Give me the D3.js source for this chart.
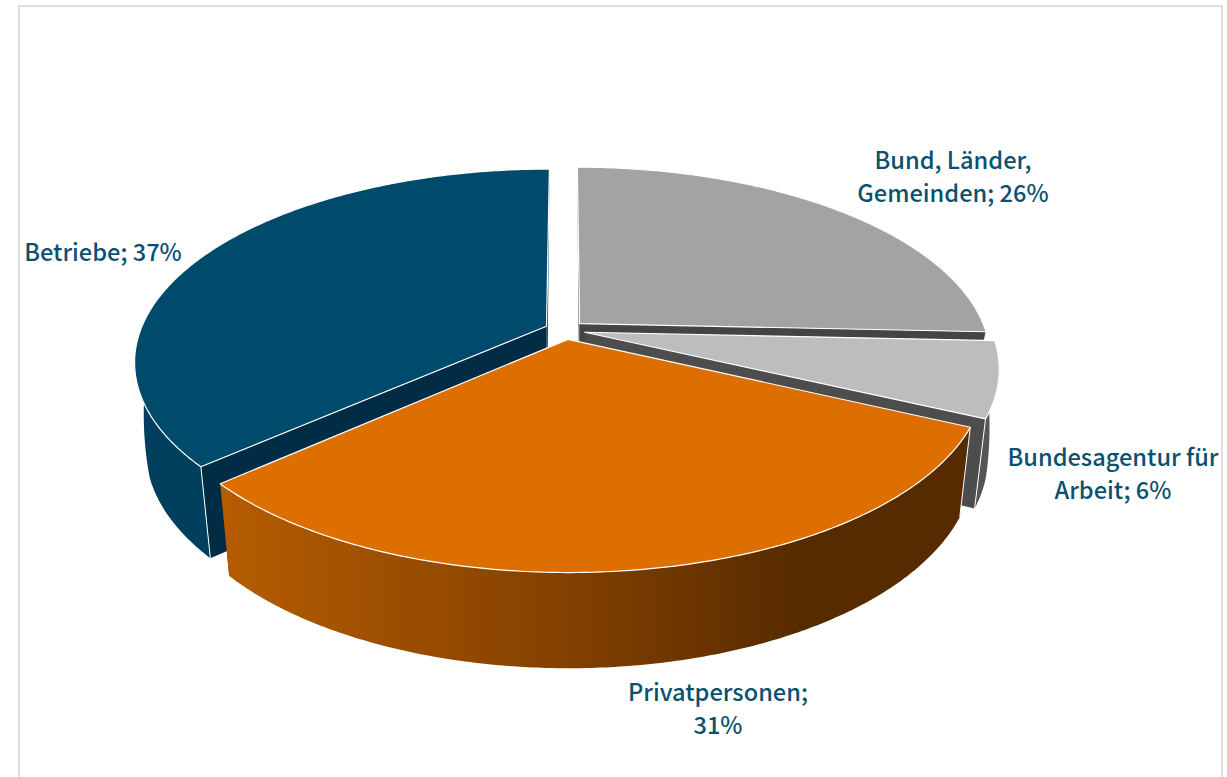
<!DOCTYPE html>
<html>
<head>
<meta charset="utf-8">
<script src="https://cdn.jsdelivr.net/npm/d3@7"></script>
<style>
  html, body { margin: 0; padding: 0; background: #fff; }
  svg { display: block; }
  .label { font-family: "Noto Sans CJK SC", "Noto Sans", sans-serif; font-weight: 500; font-size: 23.6px; fill: #0a5170; text-anchor: middle; }
</style>
</head>
<body>
<div id="chart"></div>
<script>
// clockwise from 12 o'clock (labels show them rounded)
const categories = ['Bund, Länder, Gemeinden', 'Bundesagentur für Arbeit', 'Privatpersonen', 'Betriebe'];
const shares = [25.7, 6.3, 31.4, 36.6];
const labelLines = [
    ['Bund, Länder,', 'Gemeinden; 26%'],
    ['Bundesagentur für', 'Arbeit; 6%'],
    ['Privatpersonen;', '31%'],
    ['Betriebe; 37%']
];

const topColors = ['#a3a3a3', '#bdbdbd', '#dd6f00', '#004b6b'];
const faceColors = ['#444444', '#4d4d4d', '#572b00', '#002c45'];
const wallColors = ['#444444', '#555555', 'url(#privatWall)', '#003f5e'];
const labelAnchors = [[953, 169], [1113, 466], [718, 701], [103, 261]];

const width = 1227, height = 777;

// tilted disc, a bit of perspective
const cx = 565, cy = 330;
const radius = 406, depthRadius = 187, viewDist = 5.5;
const explode = 0.05;
const wallHeight = 86, wallShrinkX = 0.974, wallGrowY = 1.04;

function project(x, y, bottom, onRim) {
    // y is positive towards the viewer
    let s = viewDist / (viewDist - y);
    let px = x * radius * s;
    let py = y * depthRadius * s;
    if (bottom) {
        // the wall fades out towards the back of the rim
        let ramp = onRim ? Math.max(0, Math.min(1, (y + 0.2) / 0.5)) : 1;
        px *= wallShrinkX + 0.016 * (1 - ramp);
        py = py * (1 + (wallGrowY - 1) * ramp) + wallHeight * ramp;
    }
    return [cx + px, cy + py];
}

function rimPoint(angle, mid, bottom) {
    let ox = Math.sin(mid) * explode, oy = -Math.cos(mid) * explode;
    return project(ox + Math.sin(angle), oy - Math.cos(angle), bottom, true);
}

function apexPoint(mid, bottom) {
    return project(Math.sin(mid) * explode, -Math.cos(mid) * explode, bottom, false);
}

function arcPoints(d, bottom) {
    let mid = (d.startAngle + d.endAngle) / 2;
    let n = Math.ceil((d.endAngle - d.startAngle) / 0.01);
    return d3.range(n + 1).map(i => rimPoint(d.startAngle + (d.endAngle - d.startAngle) * i / n, mid, bottom));
}

const line = d3.line().curve(d3.curveLinearClosed);

const pie = d3.pie().sort(null).value(d => d);
const slices = pie(shares).map((d, i) => ({...d, idx: i}));

const svg = d3.select('#chart').append('svg')
    .attr('width', width)
    .attr('height', height);

// frame, open at the bottom
svg.append('path')
    .attr('d', d3.line()([[19, height], [19, 6], [1222, 6], [1222, height]]))
    .attr('fill', 'none')
    .attr('stroke', '#dedede')
    .attr('stroke-width', 2);

const grad = svg.append('defs').append('linearGradient')
    .attr('id', 'privatWall')
    .attr('gradientUnits', 'userSpaceOnUse')
    .attr('x1', 225).attr('x2', 800).attr('y1', 0).attr('y2', 0);
grad.append('stop').attr('offset', 0).attr('stop-color', '#b55c00');
grad.append('stop').attr('offset', 0.6).attr('stop-color', '#824000');
grad.append('stop').attr('offset', 1).attr('stop-color', '#572b00');

// painter's order: back slices first, Privatpersonen on top
const drawOrder = [0, 1, 3, 2];

drawOrder.forEach(i => {
    let d = slices[i];
    let mid = (d.startAngle + d.endAngle) / 2;
    let g = svg.append('g').attr('class', 'slice');

    // cut faces
    [d.startAngle, d.endAngle].forEach(a => {
        g.append('path')
            .attr('d', line([
                apexPoint(mid, false), rimPoint(a, mid, false),
                rimPoint(a, mid, true), apexPoint(mid, true)
            ]))
            .attr('fill', faceColors[i]);
    });

    // outer wall
    let topArc = arcPoints(d, false);
    let bottomArc = arcPoints(d, true);
    g.append('path')
        .attr('d', line(topArc.concat(bottomArc.slice().reverse())))
        .attr('fill', wallColors[i]);

    // white edge where wall meets cut face
    g.append('path')
        .attr('d', d3.line()([rimPoint(d.endAngle, mid, false), rimPoint(d.endAngle, mid, true)]))
        .attr('stroke', i === 2 ? 'none' : '#fff')
        .attr('stroke-width', 1);
    g.append('path')
        .attr('d', d3.line()([rimPoint(d.startAngle, mid, false), rimPoint(d.startAngle, mid, true)]))
        .attr('stroke', '#fff')
        .attr('stroke-width', 1);

    // top
    g.append('path')
        .attr('d', line([apexPoint(mid, false)].concat(topArc)))
        .attr('fill', topColors[i])
        .attr('stroke', '#fff')
        .attr('stroke-width', 1.2)
        .attr('stroke-linejoin', 'round');
});

labelLines.forEach((lines, i) => {
    let text = svg.append('text')
        .attr('class', 'label')
        .attr('x', labelAnchors[i][0])
        .attr('y', labelAnchors[i][1]);
    lines.forEach((s, j) => {
        text.append('tspan')
            .attr('x', labelAnchors[i][0])
            .attr('dy', j === 0 ? 0 : 33)
            .text(s);
    });
});
</script>
</body>
</html>
